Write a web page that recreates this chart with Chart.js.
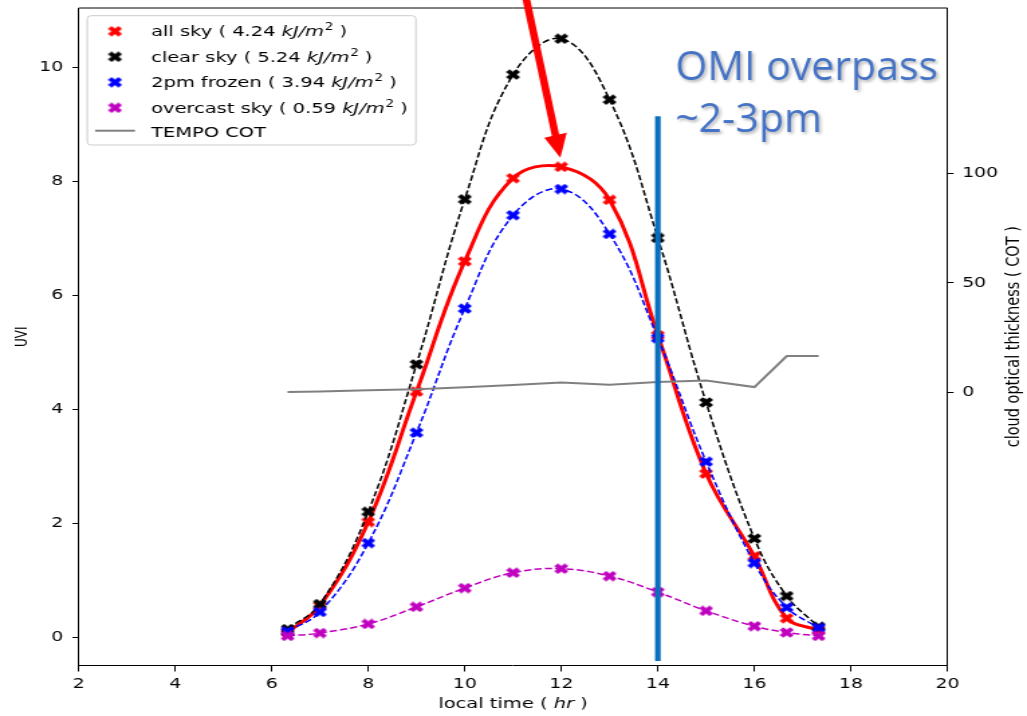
<!DOCTYPE html>
<html>
<head>
<meta charset="utf-8">
<title>UVI local time</title>
<script src="https://cdn.jsdelivr.net/npm/chart.js@4.4.1/dist/chart.umd.min.js"></script>
<style>
  html, body { margin: 0; padding: 0; background: #fff; overflow: hidden; }
</style>
</head>
<body>
<!-- the reference picture is stretched sideways, so the canvas is drawn narrow and widened by css -->
<canvas id="uvChart" width="766" height="716" style="display:block;width:1027px;height:716px"></canvas>
<script>
/* data */
const hours = [6.33, 7, 8, 9, 10, 11, 12, 13, 14, 15, 16, 16.67, 17.33];
const allSky = [0.08, 0.55, 2.02, 4.31, 6.6, 8.06, 8.26, 7.68, 5.3, 2.87, 1.42, 0.33, 0.12];
const clearSky = [0.14, 0.58, 2.2, 4.79, 7.69, 9.88, 10.51, 9.44, 7.01, 4.12, 1.73, 0.72, 0.18];
const frozen2pm = [0.1, 0.44, 1.65, 3.59, 5.77, 7.41, 7.87, 7.08, 5.25, 3.08, 1.3, 0.52, 0.16];
const overcast = [0.02, 0.07, 0.23, 0.53, 0.86, 1.13, 1.2, 1.07, 0.79, 0.46, 0.19, 0.08, 0.02];
const tempoCot = [0, 0.3, 0.8, 1.3, 2.2, 3.3, 4.4, 3.4, 4.6, 5.3, 2.3, 16.5, 16.5];

const seriesNames = ['all sky', 'clear sky', '2pm frozen', 'overcast sky'];
const doses = ['4.24', '5.24', '3.94', '0.59'];
const seriesColors = ['#ff0000', '#000000', '#0000ff', '#bf00bf'];

const hourTicks = [2, 4, 6, 8, 10, 12, 14, 16, 18, 20];
const uviTicks = [0, 2, 4, 6, 8, 10];
const cotTicks = [0, 50, 100];

// OMI overpass marker and the pointing arrow (added on top of the plot)
const overpassHour = [14, 14];
const overpassUvi = [-0.42, 9.15];
const omiLines = ['OMI overpass', '~2-3pm'];
const omiAnchor = [14.36, 9.79, 8.88];   // hour, baseline uvi of line 1 and 2
const arrowFrom = [11.27, 11.22];
const arrowTo = [11.98, 8.42];

const K = 1027 / 766;

// filled "X" marker like matplotlib's
function xMarker(color) {
  const c = document.createElement('canvas');
  c.width = 11; c.height = 11;
  const g = c.getContext('2d');
  const a = 0.52;
  const pts = [[0, a], [1 - a, 1], [1, 1 - a], [a, 0], [1, a - 1], [1 - a, -1],
               [0, -a], [a - 1, -1], [-1, a - 1], [-a, 0], [-1, 1 - a], [a - 1, 1]];
  g.fillStyle = color;
  g.beginPath();
  pts.forEach(([px, py], i) => {
    const X = 5.5 + px * 5.3, Y = 5.5 - py * 5.3;
    if (i) g.lineTo(X, Y); else g.moveTo(X, Y);
  });
  g.closePath();
  g.fill();
  return c;
}
const markers = seriesColors.map(xMarker);

function pts(xs, ys) {
  return xs.map((h, i) => ({ x: h, y: ys[i] }));
}

const FONT = 'DejaVu Sans';

function drawLegend(ctx) {
  ctx.save();
  ctx.fillStyle = 'rgba(255,255,255,0.8)';
  ctx.strokeStyle = '#cccccc';
  ctx.lineWidth = 1;
  ctx.beginPath();
  ctx.roundRect(65.1, 15.7, 245.1, 129.3, 3);
  ctx.fill();
  ctx.stroke();

  const rowY = [36, 61.5, 87, 112.5];
  ctx.textBaseline = 'alphabetic';
  ctx.fillStyle = '#000';
  seriesNames.forEach((name, i) => {
    ctx.drawImage(markers[i], 85.8 - 5.5, rowY[i] - 4.7 - 5.5);
    let tx = 112.7;
    const a = name + ' ( ' + doses[i] + ' ';
    ctx.font = '14.5px "' + FONT + '"';
    ctx.fillText(a, tx, rowY[i]);
    tx += ctx.measureText(a).width;
    ctx.font = 'italic 14.5px "' + FONT + '"';
    ctx.fillText('kJ/m', tx, rowY[i]);
    tx += ctx.measureText('kJ/m').width + 0.6;
    ctx.font = '10px "' + FONT + '"';
    ctx.fillText('2', tx, rowY[i] - 6);
    tx += ctx.measureText('2').width;
    ctx.font = '14.5px "' + FONT + '"';
    ctx.fillText(' )', tx, rowY[i]);
  });
  ctx.strokeStyle = '#808080';
  ctx.lineWidth = 2;
  ctx.beginPath();
  ctx.moveTo(70.9, 130.7);
  ctx.lineTo(100.7, 130.7);
  ctx.stroke();
  ctx.font = '14.5px "' + FONT + '"';
  ctx.fillText('TEMPO COT', 112.7, 136.5);
  ctx.restore();
}

const overlay = {
  id: 'overlay',
  afterDatasetsDraw(chart) {
    const { ctx, chartArea, scales } = chart;
    const xs = scales.x, ys = scales.y;

    // top spine
    ctx.save();
    ctx.strokeStyle = '#000';
    ctx.lineWidth = 1;
    ctx.beginPath();
    ctx.moveTo(chartArea.left, chartArea.top);
    ctx.lineTo(chartArea.right, chartArea.top);
    ctx.stroke();
    ctx.restore();

    drawLegend(ctx);

    // x axis title with italic unit
    ctx.save();
    ctx.fillStyle = '#000';
    ctx.textBaseline = 'alphabetic';
    const p1 = 'local time ( ', p2 = 'hr', p3 = ' )';
    ctx.font = '14.5px "' + FONT + '"';
    const w1 = ctx.measureText(p1).width, w3 = ctx.measureText(p3).width;
    ctx.font = 'italic 14.5px "' + FONT + '"';
    const w2 = ctx.measureText(p2).width;
    let tx = (chartArea.left + chartArea.right) / 2 - (w1 + w2 + w3) / 2;
    ctx.font = '14.5px "' + FONT + '"';
    ctx.fillText(p1, tx, 708);
    ctx.font = 'italic 14.5px "' + FONT + '"';
    ctx.fillText(p2, tx + w1, 708);
    ctx.font = '14.5px "' + FONT + '"';
    ctx.fillText(p3, tx + w1 + w2, 708);

    // right axis title, read bottom to top
    ctx.translate(756.2, (chartArea.top + chartArea.bottom) / 2);
    ctx.rotate(-Math.PI / 2);
    ctx.textAlign = 'center';
    ctx.textBaseline = 'middle';
    ctx.font = '14.5px "' + FONT + '"';
    ctx.fillText('cloud optical thickness ( COT )', 0, 0);
    ctx.restore();

    // overlays drawn in unstretched (screen) units
    ctx.save();
    ctx.scale(1 / K, 1);

    // red arrow
    const ax = xs.getPixelForValue(arrowFrom[0]) * K, ay = ys.getPixelForValue(arrowFrom[1]);
    const bx = xs.getPixelForValue(arrowTo[0]) * K, by = ys.getPixelForValue(arrowTo[1]);
    const len = Math.hypot(bx - ax, by - ay);
    const ux = (bx - ax) / len, uy = (by - ay) / len;
    const headLen = 23, headHalf = 11.5;
    const hx = bx - ux * headLen, hy = by - uy * headLen;
    ctx.strokeStyle = '#ff0000';
    ctx.fillStyle = '#ff0000';
    ctx.lineWidth = 7.5;
    ctx.beginPath();
    ctx.moveTo(ax, ay);
    ctx.lineTo(hx + ux * 2, hy + uy * 2);
    ctx.stroke();
    ctx.beginPath();
    ctx.moveTo(bx, by);
    ctx.lineTo(hx - uy * headHalf, hy + ux * headHalf);
    ctx.lineTo(hx + uy * headHalf, hy - ux * headHalf);
    ctx.closePath();
    ctx.fill();

    // OMI text
    const ox = xs.getPixelForValue(omiAnchor[0]) * K;
    ctx.font = '41px "Open Sans"';
    ctx.fillStyle = '#4472c4';
    ctx.shadowColor = 'rgba(0,0,0,0.3)';
    ctx.shadowBlur = 3;
    ctx.shadowOffsetX = 1.5;
    ctx.shadowOffsetY = 2;
    ctx.fillText(omiLines[0], ox, ys.getPixelForValue(omiAnchor[1]));
    ctx.fillText(omiLines[1], ox, ys.getPixelForValue(omiAnchor[2]));
    ctx.restore();
  }
};

const tickFont = { family: FONT, size: 14 };

function noPad(s) {
  s.paddingTop = 0; s.paddingBottom = 0; s.paddingLeft = 0; s.paddingRight = 0;
}

new Chart(document.getElementById('uvChart'), {
  type: 'line',
  data: {
    datasets: [
      {
        label: 'all sky',
        data: pts(hours, allSky),
        borderColor: '#ff0000',
        borderWidth: 3,
        tension: 0.4,
        pointStyle: markers[0],
        pointRadius: 5,
        order: 5
      },
      {
        label: 'clear sky',
        data: pts(hours, clearSky),
        borderColor: '#000000',
        borderWidth: 1.5,
        borderDash: [5.5, 2.4],
        tension: 0.4,
        pointStyle: markers[1],
        pointRadius: 5,
        order: 4
      },
      {
        label: '2pm frozen',
        data: pts(hours, frozen2pm),
        borderColor: '#0000ff',
        borderWidth: 1.5,
        borderDash: [5.5, 2.4],
        tension: 0.4,
        pointStyle: markers[2],
        pointRadius: 5,
        order: 3
      },
      {
        label: 'overcast sky',
        data: pts(hours, overcast),
        borderColor: '#bf00bf',
        borderWidth: 1.5,
        borderDash: [5.5, 2.4],
        tension: 0.4,
        pointStyle: markers[3],
        pointRadius: 5,
        order: 2
      },
      {
        label: 'TEMPO COT',
        data: pts(hours, tempoCot),
        yAxisID: 'y2',
        borderColor: '#808080',
        borderWidth: 2,
        tension: 0,
        pointRadius: 0,
        order: 1
      },
      {
        label: 'OMI overpass',
        data: pts(overpassHour, overpassUvi),
        borderColor: '#0a70bd',
        borderWidth: 4.2,
        borderCapStyle: 'butt',
        pointRadius: 0,
        order: 0
      }
    ]
  },
  options: {
    responsive: false,
    animation: false,
    devicePixelRatio: 1,
    layout: { padding: { top: 8, left: 0, right: 0, bottom: 0 } },
    plugins: {
      legend: { display: false },
      tooltip: { enabled: false }
    },
    scales: {
      x: {
        type: 'linear',
        min: 2,
        max: 20,
        afterBuildTicks: (s) => { s.ticks = hourTicks.map(v => ({ value: v })); },
        afterFit: (s) => { s.height = 50.5; noPad(s); },
        grid: { drawOnChartArea: false, tickLength: 6, color: '#000' },
        border: { color: '#000', width: 1 },
        ticks: { color: '#000', font: tickFont, padding: 4.5, maxRotation: 0 }
      },
      y: {
        position: 'left',
        min: -0.5,
        max: 11.05,
        afterBuildTicks: (s) => { s.ticks = uviTicks.map(v => ({ value: v })); },
        afterFit: (s) => { s.width = 58.6; noPad(s); },
        grid: { drawOnChartArea: false, tickLength: 4.5, color: '#000' },
        border: { color: '#000', width: 1 },
        ticks: { color: '#000', font: tickFont, padding: 7 },
        title: {
          display: true,
          text: 'UVI',
          color: '#000',
          font: { family: FONT, size: 12 },
          padding: { top: 9.6, bottom: 0 }
        }
      },
      y2: {
        position: 'right',
        min: -125.2,
        max: 175.9,
        afterBuildTicks: (s) => { s.ticks = cotTicks.map(v => ({ value: v })); },
        afterFit: (s) => { s.width = 59.3; noPad(s); },
        grid: { drawOnChartArea: false, tickLength: 4.5, color: '#000' },
        border: { color: '#000', width: 1 },
        ticks: { color: '#000', font: tickFont, padding: 6.5 }
      }
    }
  },
  plugins: [overlay]
});
</script>
</body>
</html>
